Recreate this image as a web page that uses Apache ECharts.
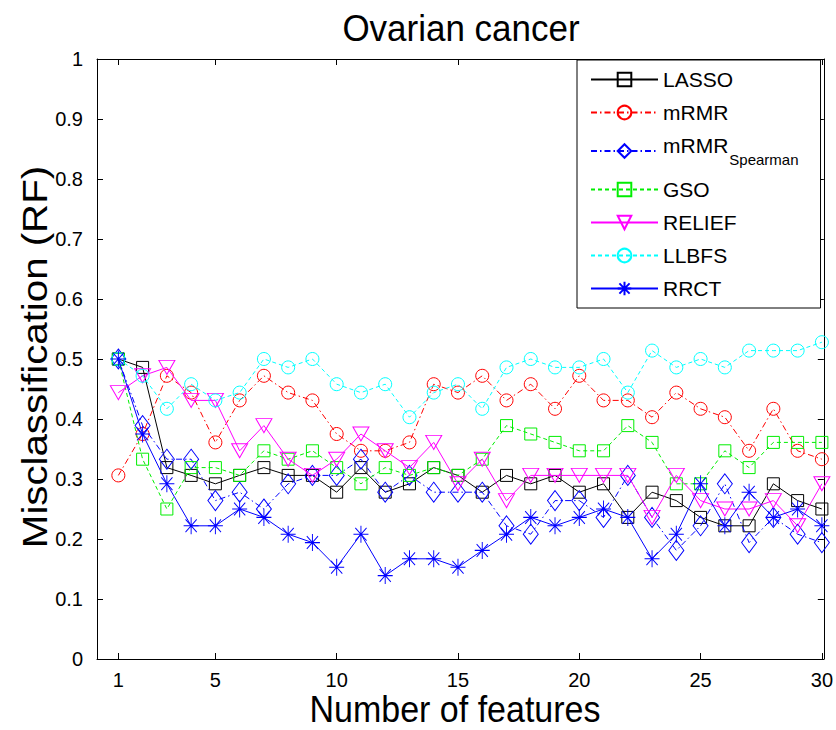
<!DOCTYPE html>
<html>
<head>
<meta charset="utf-8">
<script src="https://cdn.jsdelivr.net/npm/echarts@6/dist/echarts.min.js"></script>
<style>
html,body{margin:0;padding:0;background:#fff;}
#chart{width:836px;height:730px;}
</style>
</head>
<body>
<div id="chart"></div>
<script>
// ---- data ----
const features = [1,2,3,4,5,6,7,8,9,10,11,12,13,14,15,16,17,18,19,20,21,22,23,24,25,26,27,28,29,30];
const xTicks = [1,5,10,15,20,25,30];

const lasso   = [.500,.486,.319,.306,.292,.306,.319,.306,.306,.278,.319,.278,.292,.319,.306,.278,.306,.292,.306,.278,.292,.236,.278,.264,.236,.222,.222,.292,.264,.250];
const mrmr    = [.306,.375,.472,.444,.361,.431,.472,.444,.431,.375,.347,.347,.361,.458,.444,.472,.431,.458,.417,.472,.431,.431,.403,.444,.417,.403,.347,.417,.347,.333];
const mrmrSp  = [.500,.389,.333,.333,.264,.278,.250,.292,.306,.306,.333,.278,.306,.278,.278,.278,.222,.208,.264,.264,.236,.306,.236,.181,.222,.292,.194,.236,.208,.194];
const gso     = [.500,.333,.250,.319,.319,.306,.347,.333,.347,.319,.292,.319,.306,.319,.306,.333,.389,.375,.361,.347,.347,.389,.361,.292,.292,.347,.319,.361,.361,.361];
const relief  = [.444,.472,.486,.431,.431,.347,.389,.333,.306,.333,.375,.347,.319,.361,.292,.333,.264,.306,.306,.306,.306,.306,.236,.306,.264,.250,.250,.264,.222,.292];
const llbfs   = [.500,.472,.417,.458,.431,.444,.500,.486,.500,.458,.444,.458,.403,.444,.458,.417,.486,.500,.486,.486,.500,.444,.514,.486,.500,.486,.514,.514,.514,.528];
const rrct    = [.500,.375,.292,.222,.222,.250,.236,.208,.194,.153,.208,.139,.167,.167,.153,.181,.208,.236,.222,.236,.250,.236,.167,.208,.292,.222,.278,.236,.250,.222];

const seriesNames = ['LASSO','mRMR','mRMRSpearman','GSO','RELIEF','LLBFS','RRCT'];
const titleText = 'Ovarian cancer';
const xName = 'Number of features';
const yName = 'Misclassification (RF)';

// ---- styling ----
const FONT = '"Liberation Sans", Arial, Helvetica, sans-serif';
const starPath = 'path://M0,-10L0,10M-10,0L10,0M-7.5,-7.5L7.5,7.5M-7.5,7.5L7.5,-7.5';
const styles = [
  {color:'#000000', dash:'solid',        symbol:'rect',     size:[12,12], rot:0},
  {color:'#ff0000', dash:[6,3,1.5,3],    symbol:'circle',   size:[13,13], rot:0},
  {color:'#0000ff', dash:[6,3,1.5,3],    symbol:'diamond',  size:[15,20], rot:0},
  {color:'#00ee00', dash:[4,3],          symbol:'rect',     size:[12,12], rot:0},
  {color:'#ff00ff', dash:'solid',        symbol:'triangle', size:[16,14], rot:180},
  {color:'#00ffff', dash:[4,3],          symbol:'circle',   size:[13,13], rot:0},
  {color:'#0000ff', dash:'solid',        symbol:starPath,   size:[15,17], rot:0}
];
const values = [lasso, mrmr, mrmrSp, gso, relief, llbfs, rrct];

const series = seriesNames.map((name, k) => ({
  name: name,
  type: 'line',
  data: features.map((f, i) => [f, values[k][i]]),
  symbol: styles[k].symbol,
  symbolSize: styles[k].size,
  symbolRotate: styles[k].rot,
  showAllSymbol: true,
  clip: false,
  lineStyle: {color: styles[k].color, width: 1, type: styles[k].dash},
  itemStyle: {color: 'rgba(0,0,0,0)', borderColor: styles[k].color, borderWidth: 1},
  emphasis: {disabled: true},
  z: 2 + k
}));

const axisCommonX = {
  type: 'value', min: 0.12, max: 30.08,
  axisLine: {show: true, onZero: false, lineStyle: {color: '#000', width: 1}},
  splitLine: {show: false}
};
const axisCommonY = {
  type: 'value', min: 0, max: 1, interval: 0.1,
  axisLine: {show: true, onZero: false, lineStyle: {color: '#000', width: 1}},
  splitLine: {show: false}
};

const chart = echarts.init(document.getElementById('chart'), null, {renderer: 'svg'});
chart.setOption({
  animation: false,
  backgroundColor: '#fff',
  grid: {left: 97, right: 11, top: 59, bottom: 71, containLabel: false},
  xAxis: [
    Object.assign({}, axisCommonX, {
      position: 'bottom',
      axisTick: {show: true, inside: true, length: 6, customValues: xTicks, lineStyle: {color: '#000'}},
      axisLabel: {show: true, customValues: xTicks, margin: 11, color: '#000', fontSize: 20, fontFamily: FONT}
    }),
    Object.assign({}, axisCommonX, {
      position: 'top',
      axisTick: {show: true, inside: true, length: 6, customValues: xTicks, lineStyle: {color: '#000'}},
      axisLabel: {show: false}
    })
  ],
  yAxis: [
    Object.assign({}, axisCommonY, {
      position: 'left',
      axisTick: {show: true, inside: true, length: 6, lineStyle: {color: '#000'}},
      axisLabel: {show: true, margin: 14, color: '#000', fontSize: 20, fontFamily: FONT}
    }),
    Object.assign({}, axisCommonY, {
      position: 'right',
      axisTick: {show: true, inside: true, length: 6, lineStyle: {color: '#000'}},
      axisLabel: {show: false}
    })
  ],
  legend: {
    orient: 'vertical',
    left: 577, top: 60,
    backgroundColor: '#fff',
    borderColor: '#000', borderWidth: 1, borderRadius: 0,
    padding: [9, 22, 9, 13],
    itemWidth: 67, itemHeight: 17, itemGap: 12,
    data: seriesNames,
    selectedMode: false,
    formatter: function (name) {
      return name === 'mRMRSpearman' ? '{m|mRMR}{s|Spearman}' : '{n|' + name + '}';
    },
    textStyle: {
      color: '#000', fontSize: 21, fontFamily: FONT,
      rich: {
        n: {fontSize: 21, fontFamily: FONT, color: '#000', lineHeight: 24},
        m: {fontSize: 21, fontFamily: FONT, color: '#000', lineHeight: 24, verticalAlign: 'top'},
        s: {fontSize: 15, fontFamily: FONT, color: '#000', lineHeight: 32, padding: [14, 0, 0, 1], verticalAlign: 'bottom'}
      }
    }
  },
  graphic: [
    {type: 'text', x: 461, y: 29, scaleY: 1.05, silent: true,
     style: {text: titleText, fontSize: 35, fontFamily: FONT, fill: '#000', align: 'center', verticalAlign: 'middle'}},
    {type: 'text', x: 455, y: 709, scaleY: 1.08, silent: true,
     style: {text: xName, fontSize: 34, fontFamily: FONT, fill: '#000', align: 'center', verticalAlign: 'middle'}},
    {type: 'text', x: 35, y: 357, rotation: Math.PI / 2, scaleX: 1.15, silent: true,
     style: {text: yName, fontSize: 35, fontFamily: FONT, fill: '#000', align: 'center', verticalAlign: 'middle'}}
  ],
  series: series
});
</script>
</body>
</html>
